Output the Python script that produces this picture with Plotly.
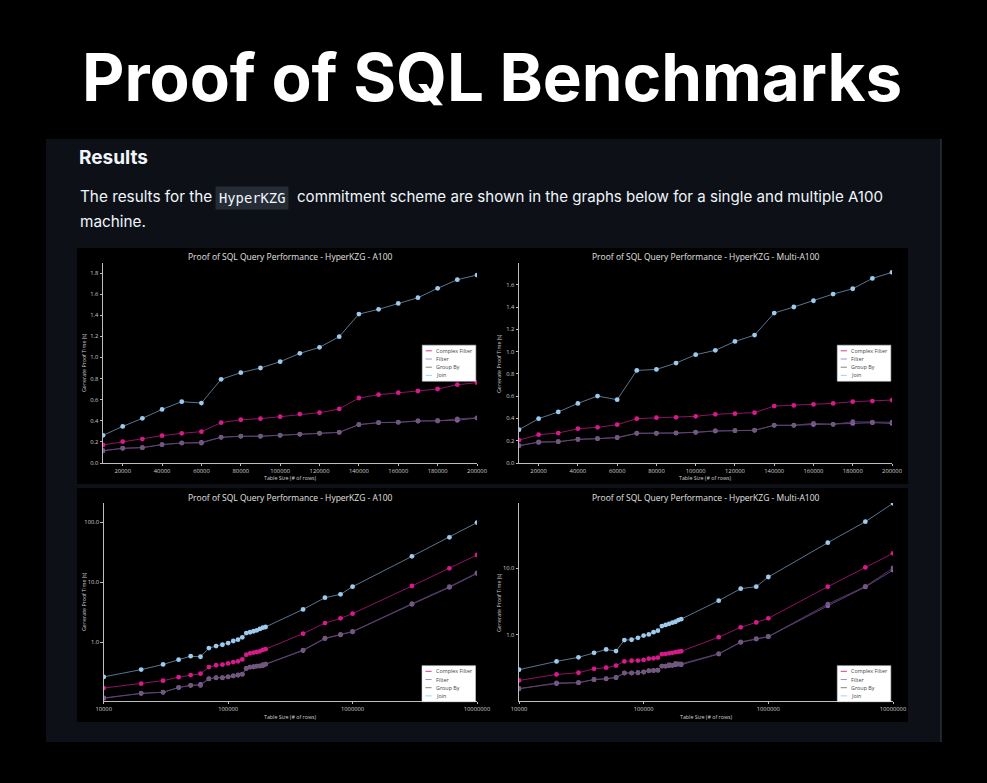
import plotly.graph_objects as go

# ---------------- data ----------------
sizes_small = [10000, 20000, 30000, 40000, 50000, 60000, 70000, 80000, 90000, 100000,
               110000, 120000, 130000, 140000, 150000, 160000, 170000, 180000, 190000, 200000]
sizes_large = [400000, 600000, 800000, 1000000, 3000000, 6000000, 10000000]

series_names = ["Complex Filter", "Filter", "Group By", "Join"]
series_colors = ["#d61a8a", "#9b59d0", "#6e5a78", "#9ccbef"]
line_colors = ["#b0197a", "#7b4aa8", "#5c4a66", "#6f93b3"]
legend_colors = ["#d63a96", "#b08ad8", "#8a7f90", "#a8d0ee"]

# single A100
cf_a_small = [0.171, 0.202, 0.227, 0.259, 0.281, 0.297, 0.382, 0.410, 0.420, 0.439,
              0.464, 0.477, 0.512, 0.616, 0.647, 0.666, 0.682, 0.701, 0.742, 0.761]
filter_a_small = [0.117, 0.139, 0.145, 0.174, 0.189, 0.196, 0.243, 0.253, 0.253, 0.262,
                  0.272, 0.281, 0.290, 0.363, 0.382, 0.385, 0.398, 0.401, 0.405, 0.426]
group_a_small = [0.115, 0.140, 0.146, 0.175, 0.190, 0.188, 0.245, 0.254, 0.255, 0.263,
                 0.273, 0.282, 0.291, 0.365, 0.383, 0.387, 0.398, 0.398, 0.418, 0.428]
join_a_small = [0.262, 0.347, 0.423, 0.508, 0.581, 0.568, 0.793, 0.856, 0.900, 0.960,
                1.039, 1.096, 1.197, 1.411, 1.456, 1.512, 1.566, 1.655, 1.737, 1.781]
cf_a_large = [1.38, 2.07, 2.48, 2.97, 8.58, 16.9, 28.2]
filter_a_large = [0.72, 1.14, 1.32, 1.48, 4.25, 8.15, 13.9]
group_a_large = [0.735, 1.16, 1.34, 1.50, 4.35, 8.35, 14.2]
join_a_large = [3.50, 5.48, 6.23, 8.36, 26.8, 55.5, 98.0]

# multi A100
cf_m_small = [0.206, 0.254, 0.269, 0.308, 0.320, 0.344, 0.398, 0.407, 0.410, 0.419,
              0.437, 0.443, 0.452, 0.511, 0.517, 0.526, 0.535, 0.550, 0.556, 0.565]
filter_m_small = [0.156, 0.185, 0.191, 0.212, 0.218, 0.227, 0.266, 0.266, 0.269, 0.275,
                  0.287, 0.290, 0.293, 0.338, 0.338, 0.345, 0.347, 0.355, 0.362, 0.355]
group_m_small = [0.154, 0.190, 0.191, 0.213, 0.219, 0.230, 0.267, 0.267, 0.270, 0.276,
                 0.288, 0.291, 0.294, 0.339, 0.339, 0.356, 0.347, 0.370, 0.366, 0.366]
join_m_small = [0.299, 0.398, 0.458, 0.535, 0.601, 0.568, 0.831, 0.840, 0.897, 0.972,
                1.011, 1.091, 1.148, 1.346, 1.400, 1.456, 1.516, 1.564, 1.657, 1.711]
cf_m_large = [0.92, 1.29, 1.53, 1.76, 5.25, 10.2, 16.6]
filter_m_large = [0.513, 0.768, 0.861, 0.933, 2.72, 5.20, 9.3]
group_m_large = [0.52, 0.78, 0.87, 0.94, 2.88, 5.30, 10.0]
join_m_large = [3.24, 4.90, 5.25, 7.33, 24.0, 49.5, 93.3]

lin_yticks_a = [0.0, 0.2, 0.4, 0.6, 0.8, 1.0, 1.2, 1.4, 1.6, 1.8]
lin_yticks_m = [0.0, 0.2, 0.4, 0.6, 0.8, 1.0, 1.2, 1.4, 1.6]
lin_xticks = [20000, 40000, 60000, 80000, 100000, 120000, 140000, 160000, 180000, 200000]
log_xticks = [10000, 100000, 1000000, 10000000]
log_xlabels = ["10000", "100000", "1000000", "10000000"]
log_yticks_a = [1, 10, 100]
log_ylabels_a = ["1.0", "10.0", "100.0"]
log_yticks_m = [1, 10]
log_ylabels_m = ["1.0", "10.0"]

chart_title_a = "Proof of SQL Query Performance - HyperKZG - A100"
chart_title_m = "Proof of SQL Query Performance - HyperKZG - Multi-A100"
x_title = "Table Size (# of rows)"
y_title = "Generate Proof Time (s)"

# ---------------- page geometry ----------------
W, H = 987, 783
def fx(p):
    return p / W
def fy(p):
    return 1 - p / H

fig = go.Figure()

panels = [
    # axis suffix, data, x sizes, legend box (left, top)
    ("", [cf_a_small, filter_a_small, group_a_small, join_a_small], sizes_small, (422.3, 345.2)),
    ("2", [cf_m_small, filter_m_small, group_m_small, join_m_small], sizes_small, (837.3, 345.2)),
    ("3", [cf_a_small + cf_a_large, filter_a_small + filter_a_large,
           group_a_small + group_a_large, join_a_small + join_a_large],
     sizes_small + sizes_large, (422.0, 665.7)),
    ("4", [cf_m_small + cf_m_large, filter_m_small + filter_m_large,
           group_m_small + group_m_large, join_m_small + join_m_large],
     sizes_small + sizes_large, (837.3, 665.7)),
]

for suffix, data, xs, _ in panels:
    for name, col, lcol, ys in zip(series_names, series_colors, line_colors, data):
        fig.add_trace(go.Scatter(
            x=xs, y=ys, mode="lines+markers", name=name,
            line=dict(color=lcol, width=0.8),
            marker=dict(color=col, size=4.8),
            xaxis="x" + suffix, yaxis="y" + suffix,
            showlegend=False, hoverinfo="x+y+name"))

axis_common = dict(showgrid=False, zeroline=False, showline=True, linecolor="#bdbdbd",
                   linewidth=0.8, ticks="outside", ticklen=2.5, tickwidth=0.6, automargin=False,
                   tickcolor="#bdbdbd", tickfont=dict(size=5.8, color="#cfcfcf", family="Open Sans"))

layout = dict(
    width=W, height=H, autosize=False,
    margin=dict(l=0, r=0, t=0, b=0, pad=0, autoexpand=False),
    paper_bgcolor="#000000", plot_bgcolor="rgba(0,0,0,0)",
    font=dict(family="Open Sans", color="#cfcfcf"),
    showlegend=False,
)

layout["xaxis"] = dict(axis_common, domain=[fx(103), fx(477)], range=[10000, 200000],
                       tickvals=lin_xticks, tickformat="d", anchor="y")
layout["yaxis"] = dict(axis_common, domain=[fy(463), fy(263)], range=[0, 1.895],
                       tickvals=lin_yticks_a, tickformat=".1f", anchor="x")
layout["xaxis2"] = dict(axis_common, domain=[fx(519), fx(892)], range=[10000, 200000],
                        tickvals=lin_xticks, tickformat="d", anchor="y2")
layout["yaxis2"] = dict(axis_common, domain=[fy(463), fy(263)], range=[0, 1.795],
                        tickvals=lin_yticks_m, tickformat=".1f", anchor="x2")
layout["xaxis3"] = dict(axis_common, domain=[fx(103.7), fx(477)], type="log", range=[4, 7],
                        tickvals=log_xticks, ticktext=log_xlabels, anchor="y3")
layout["yaxis3"] = dict(axis_common, domain=[fy(701), fy(503)], type="log", range=[-0.983, 2.317],
                        tickvals=log_yticks_a, ticktext=log_ylabels_a, anchor="x3")
layout["xaxis4"] = dict(axis_common, domain=[fx(519), fx(893)], type="log", range=[4, 7],
                        tickvals=log_xticks, ticktext=log_xlabels, anchor="y4")
layout["yaxis4"] = dict(axis_common, domain=[fy(701), fy(503)], type="log", range=[-0.994, 1.975],
                        tickvals=log_yticks_m, ticktext=log_ylabels_m, anchor="x4")

shapes = [
    dict(type="rect", xref="paper", yref="paper", x0=fx(46), x1=fx(941), y0=fy(742), y1=fy(139),
         fillcolor="#0d1117", line=dict(width=0), layer="below"),
    dict(type="line", xref="paper", yref="paper", x0=fx(941), x1=fx(941), y0=fy(742), y1=fy(139),
         line=dict(color="#3d444d", width=1), layer="below"),
    dict(type="rect", xref="paper", yref="paper", x0=fx(77), x1=fx(908), y0=fy(484), y1=fy(248),
         fillcolor="#000000", line=dict(width=0), layer="below"),
    dict(type="rect", xref="paper", yref="paper", x0=fx(77), x1=fx(908), y0=fy(722), y1=fy(488),
         fillcolor="#000000", line=dict(width=0), layer="below"),
]

ann = []
# legends (drawn as boxes with short line samples and labels)
for _, _, _, (lx, ly) in panels:
    shapes.append(dict(type="rect", xref="paper", yref="paper",
                       x0=fx(lx), x1=fx(lx + 53.5), y0=fy(ly + 36), y1=fy(ly),
                       fillcolor="#ffffff", line=dict(color="#d0d0d0", width=0.6), layer="above"))
    for i, (name, col) in enumerate(zip(series_names, legend_colors)):
        cy = ly + 5.6 + 8.2 * i
        shapes.append(dict(type="line", xref="paper", yref="paper",
                           x0=fx(lx + 3.4), x1=fx(lx + 9.6), y0=fy(cy), y1=fy(cy),
                           line=dict(color=col, width=1), layer="above"))
        ann.append(dict(text=name, x=fx(lx + 11.8), y=fy(cy), xref="paper", yref="paper",
                        xanchor="left", yanchor="middle", showarrow=False,
                        font=dict(family="Open Sans", size=5.4, color="#444444")))
layout["shapes"] = shapes

ann.append(dict(text="Proof of SQL Benchmarks", x=fx(492), y=fy(77), xref="paper", yref="paper",
                xanchor="center", yanchor="middle", showarrow=False,
                font=dict(family="Inter", size=65.5, color="#ffffff", weight=700)))
ann.append(dict(text="Results", x=fx(77), y=fy(157), xref="paper", yref="paper",
                xanchor="left", yanchor="middle", showarrow=False,
                font=dict(family="Inter", size=19, color="#f0f6fc", weight=700)))
ann.append(dict(text="The results for the", x=fx(77.5), y=fy(197), xref="paper", yref="paper",
                xanchor="left", yanchor="middle", showarrow=False,
                font=dict(family="Inter", size=15.3, color="#f0f6fc")))
ann.append(dict(text="HyperKZG", x=fx(215), y=fy(198), xref="paper", yref="paper",
                xanchor="left", yanchor="middle", showarrow=False, bgcolor="#262c36",
                borderpad=3,
                font=dict(family="DejaVu Sans Mono", size=13.8, color="#f0f6fc")))
ann.append(dict(text="commitment scheme are shown in the graphs below for a single and multiple A100",
                x=fx(295), y=fy(197), xref="paper", yref="paper",
                xanchor="left", yanchor="middle", showarrow=False,
                font=dict(family="Inter", size=15.1, color="#f0f6fc")))
ann.append(dict(text="machine.", x=fx(77.5), y=fy(221), xref="paper", yref="paper",
                xanchor="left", yanchor="middle", showarrow=False,
                font=dict(family="Inter", size=15.3, color="#f0f6fc")))

chart_titles = [(chart_title_a, 290, 257), (chart_title_m, 705.5, 257),
                (chart_title_a, 290, 497), (chart_title_m, 706, 497)]
for t, cx, cy in chart_titles:
    ann.append(dict(text=t, x=fx(cx), y=fy(cy), xref="paper", yref="paper",
                    xanchor="center", yanchor="middle", showarrow=False,
                    font=dict(family="Open Sans", size=8.5, color="#e0e0e0")))
for cx, cy in [(290, 477.5), (705.5, 477.5), (290, 716.5), (706, 716.5)]:
    ann.append(dict(text=x_title, x=fx(cx), y=fy(cy), xref="paper", yref="paper",
                    xanchor="center", yanchor="middle", showarrow=False,
                    font=dict(family="Open Sans", size=5.3, color="#cfcfcf")))
for cx, cy in [(84, 363), (499, 363), (84, 602), (499, 602)]:
    ann.append(dict(text=y_title, x=fx(cx), y=fy(cy), xref="paper", yref="paper",
                    xanchor="center", yanchor="middle", showarrow=False, textangle=-90,
                    font=dict(family="Open Sans", size=5.3, color="#cfcfcf")))
layout["annotations"] = ann

fig.update_layout(**layout)

page_js = ("document.documentElement.style.overflow='hidden';"
           "document.documentElement.style.background='#000';"
           "document.body.style.margin='0';"
           "document.body.style.overflow='hidden';"
           "document.body.style.background='#000';")
fig.write_html("out.html", config={"displayModeBar": False}, post_script=page_js)
